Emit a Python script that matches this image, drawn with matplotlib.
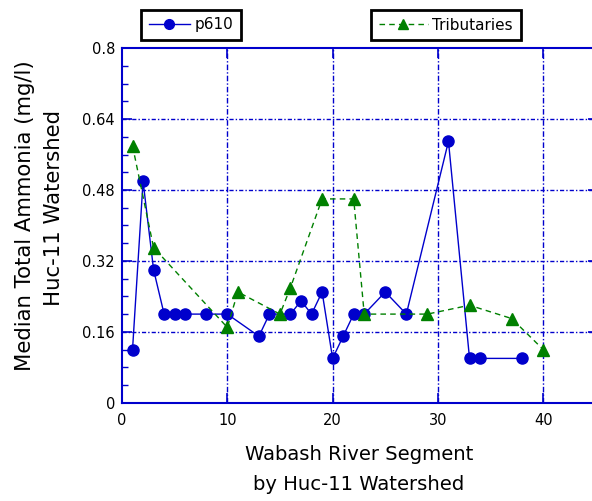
import matplotlib
matplotlib.use("Agg")
import matplotlib.pyplot as plt
from matplotlib.ticker import FixedLocator, MultipleLocator, FixedFormatter

# Median total ammonia per Wabash River segment (mg/l)
p610_segment = [1, 2, 3, 4, 5, 6, 8, 10, 13, 14, 16, 17, 18, 19, 20, 21, 22, 23, 25, 27, 31, 33, 34, 38]
p610_value = [0.12, 0.50, 0.30, 0.20, 0.20, 0.20, 0.20, 0.20, 0.15, 0.20, 0.20, 0.23, 0.20, 0.25,
              0.10, 0.15, 0.20, 0.20, 0.25, 0.20, 0.59, 0.10, 0.10, 0.10]

trib_segment = [1, 3, 10, 11, 15, 16, 19, 22, 23, 29, 33, 37, 40]
trib_value = [0.58, 0.35, 0.17, 0.25, 0.20, 0.26, 0.46, 0.46, 0.20, 0.20, 0.22, 0.19, 0.12]

y_ticks = [0, 0.16, 0.32, 0.48, 0.64, 0.8]
y_tick_labels = ["0", "0.16", "0.32", "0.48", "0.64", "0.8"]
x_ticks = [0, 10, 20, 30, 40]
x_tick_labels = ["0", "10", "20", "30", "40"]

W, H = 592, 501
fig = plt.figure(figsize=(W / 100, H / 100), dpi=100)
fig.patch.set_facecolor("white")

# the plot box runs slightly past the right edge of the canvas
left, right, top, bottom = 122, 598, 48.3, 402.7
ax = fig.add_axes([left / W, 1 - bottom / H, (right - left) / W, (bottom - top) / H])

blue = "#0000cc"
green = "#008000"

ax.set_xlim(0, 45.2)
ax.set_ylim(0, 0.8)

# grid drawn below the data
ax.set_axisbelow(True)
for xv in x_ticks[1:]:
    ax.axvline(xv, color=blue, lw=1.0, ls=(0, (4, 1.5, 1, 1.5)), zorder=0.5)
for yv in y_ticks[1:-1]:
    ax.axhline(yv, color=blue, lw=1.0, ls=(0, (3, 1.5, 1, 1.5)), zorder=0.5)

l1, = ax.plot(p610_segment, p610_value, color=blue, lw=1.0, marker="o", markersize=8,
              markerfacecolor=blue, markeredgecolor=blue, label="p610", zorder=3)
l2, = ax.plot(trib_segment, trib_value, color=green, lw=1.0, ls=(0, (4, 3)), marker="^",
              markersize=8, markerfacecolor=green, markeredgecolor=green,
              label="Tributaries", zorder=4)

ax.yaxis.set_major_locator(FixedLocator(y_ticks))
ax.yaxis.set_major_formatter(FixedFormatter(y_tick_labels))
ax.yaxis.set_minor_locator(MultipleLocator(0.04))
ax.xaxis.set_major_locator(FixedLocator(x_ticks))
ax.xaxis.set_major_formatter(FixedFormatter(x_tick_labels))

ax.tick_params(axis="both", which="both", direction="in", color=blue, top=True, right=True,
               labelsize=10.5, labelcolor="black")
ax.tick_params(axis="both", which="major", length=7.5, width=1.2)
ax.tick_params(axis="y", which="major", pad=5)
ax.tick_params(axis="x", which="major", pad=7.5)
ax.tick_params(axis="y", which="minor", length=4.5, width=1.0)

for sp in ax.spines.values():
    sp.set_color(blue)
    sp.set_linewidth(1.5)

fig.text(359 / W, 1 - 455 / H, "Wabash River Segment", ha="center", va="center", fontsize=14.1)
fig.text(359 / W, 1 - 485 / H, "by Huc-11 Watershed", ha="center", va="center", fontsize=14.1)
fig.text(25 / W, 1 - 216 / H, "Median Total Ammonia (mg/l)", ha="center", va="center",
         rotation=90, fontsize=15.3)
fig.text(54 / W, 1 - 208 / H, "Huc-11 Watershed", ha="center", va="center",
         rotation=90, fontsize=15.3)

leg_kw = dict(loc="center", frameon=True, fancybox=False, shadow=False, fontsize=11,
              handletextpad=0.3, borderpad=0.5, borderaxespad=0,
              bbox_transform=fig.transFigure)
leg1 = fig.legend(handles=[l1], bbox_to_anchor=(191 / W, 1 - 25 / H), handlelength=2.7, **leg_kw)
leg2 = fig.legend(handles=[l2], bbox_to_anchor=(446 / W, 1 - 25 / H), handlelength=3.2, **leg_kw)
for lg in (leg1, leg2):
    fr = lg.get_frame()
    fr.set_edgecolor("black")
    fr.set_linewidth(2.0)
    fr.set_facecolor("white")
    fr.set_alpha(1)
    for h in lg.legend_handles:
        h.set_markersize(7)

fig.savefig("out.png", dpi=100)
